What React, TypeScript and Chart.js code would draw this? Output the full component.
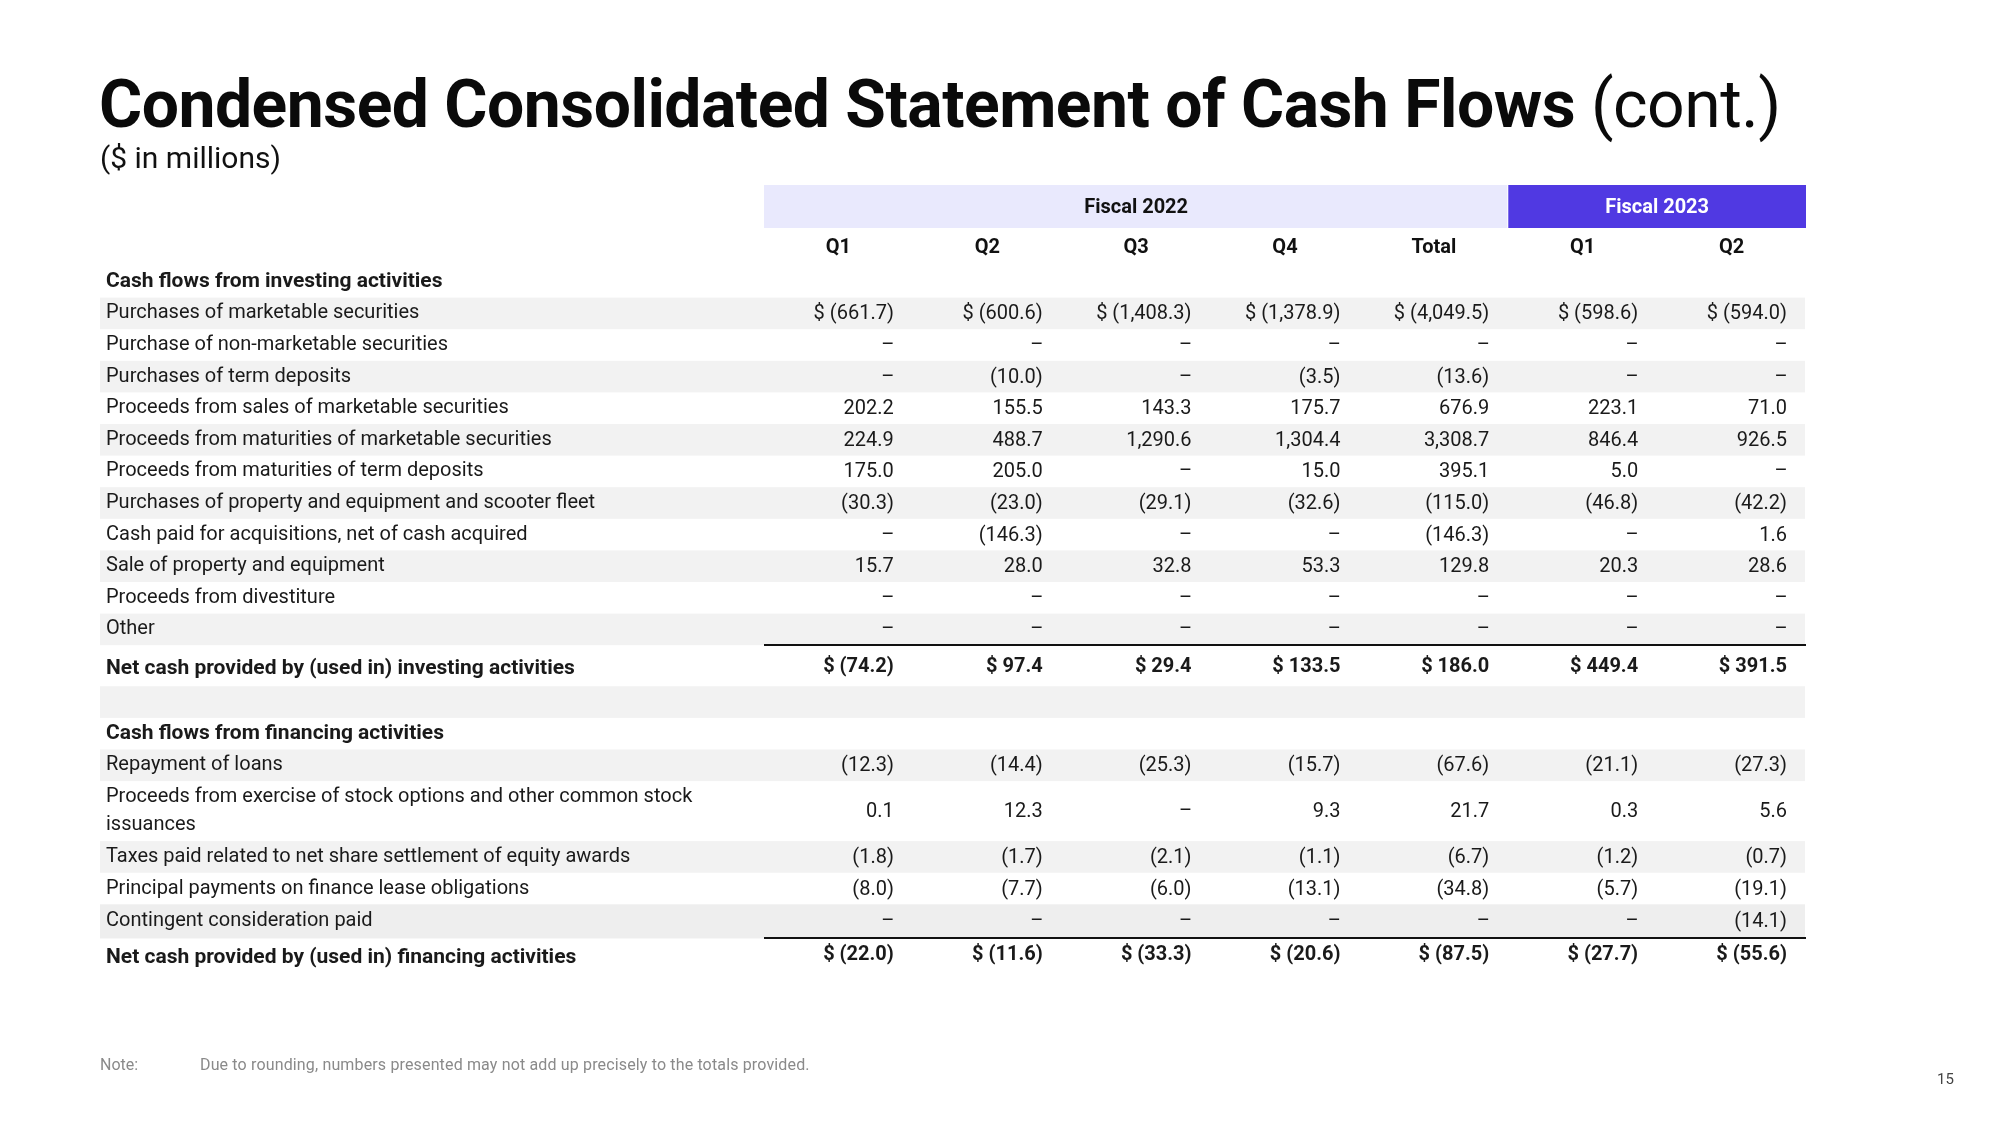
import React, { useEffect, useRef } from "react";
import { Chart, registerables } from "chart.js";

Chart.register(...registerables);

const FONT = "Roboto, 'Liberation Sans', sans-serif";

// ---- header data ----
const COLUMN_GROUPS = ["Fiscal 2022", "Fiscal 2023"];
const GROUP_SPANS = [5, 2];
const COLUMN_LABELS = ["Q1", "Q2", "Q3", "Q4", "Total", "Q1", "Q2"];

// ---- investing activities ($ in millions, null = "–") ----
const purchasesOfMarketableSecurities = [-661.7, -600.6, -1408.3, -1378.9, -4049.5, -598.6, -594.0];
const purchaseOfNonMarketableSecurities = [null, null, null, null, null, null, null];
const purchasesOfTermDeposits = [null, -10.0, null, -3.5, -13.6, null, null];
const proceedsFromSalesOfMarketable = [202.2, 155.5, 143.3, 175.7, 676.9, 223.1, 71.0];
const proceedsFromMaturitiesOfMarketable = [224.9, 488.7, 1290.6, 1304.4, 3308.7, 846.4, 926.5];
const proceedsFromMaturitiesOfTermDeposits = [175.0, 205.0, null, 15.0, 395.1, 5.0, null];
const purchasesOfPropertyAndScooters = [-30.3, -23.0, -29.1, -32.6, -115.0, -46.8, -42.2];
const cashPaidForAcquisitions = [null, -146.3, null, null, -146.3, null, 1.6];
const saleOfPropertyAndEquipment = [15.7, 28.0, 32.8, 53.3, 129.8, 20.3, 28.6];
const proceedsFromDivestiture = [null, null, null, null, null, null, null];
const otherInvesting = [null, null, null, null, null, null, null];
const netInvesting = [-74.2, 97.4, 29.4, 133.5, 186.0, 449.4, 391.5];

// ---- financing activities ----
const repaymentOfLoans = [-12.3, -14.4, -25.3, -15.7, -67.6, -21.1, -27.3];
const proceedsFromStockOptions = [0.1, 12.3, null, 9.3, 21.7, 0.3, 5.6];
const taxesPaidNetShareSettlement = [-1.8, -1.7, -2.1, -1.1, -6.7, -1.2, -0.7];
const principalPaymentsFinanceLease = [-8.0, -7.7, -6.0, -13.1, -34.8, -5.7, -19.1];
const contingentConsiderationPaid = [null, null, null, null, null, null, -14.1];
const netFinancing = [-22.0, -11.6, -33.3, -20.6, -87.5, -27.7, -55.6];

type Kind = "section" | "item" | "total" | "spacer";
type Row = { label: string | string[]; kind: Kind; values?: (number | null)[]; dollar?: boolean };

const ROWS: Row[] = [
  { label: "Cash flows from investing activities", kind: "section" },
  { label: "Purchases of marketable securities", kind: "item", values: purchasesOfMarketableSecurities, dollar: true },
  { label: "Purchase of non-marketable securities", kind: "item", values: purchaseOfNonMarketableSecurities },
  { label: "Purchases of term deposits", kind: "item", values: purchasesOfTermDeposits },
  { label: "Proceeds from sales of marketable securities", kind: "item", values: proceedsFromSalesOfMarketable },
  { label: "Proceeds from maturities of marketable securities", kind: "item", values: proceedsFromMaturitiesOfMarketable },
  { label: "Proceeds from maturities of term deposits", kind: "item", values: proceedsFromMaturitiesOfTermDeposits },
  { label: "Purchases of property and equipment and scooter fleet", kind: "item", values: purchasesOfPropertyAndScooters },
  { label: "Cash paid for acquisitions, net of cash acquired", kind: "item", values: cashPaidForAcquisitions },
  { label: "Sale of property and equipment", kind: "item", values: saleOfPropertyAndEquipment },
  { label: "Proceeds from divestiture", kind: "item", values: proceedsFromDivestiture },
  { label: "Other", kind: "item", values: otherInvesting },
  { label: "Net cash provided by (used in) investing activities", kind: "total", values: netInvesting, dollar: true },
  { label: "", kind: "spacer" },
  { label: "Cash flows from financing activities", kind: "section" },
  { label: "Repayment of loans", kind: "item", values: repaymentOfLoans },
  { label: ["Proceeds from exercise of stock options and other common stock", "issuances"], kind: "item", values: proceedsFromStockOptions },
  { label: "Taxes paid related to net share settlement of equity awards", kind: "item", values: taxesPaidNetShareSettlement },
  { label: "Principal payments on finance lease obligations", kind: "item", values: principalPaymentsFinanceLease },
  { label: "Contingent consideration paid", kind: "item", values: contingentConsiderationPaid },
  { label: "Net cash provided by (used in) financing activities", kind: "total", values: netFinancing, dollar: true },
];

// ---- layout helpers (row heights in "row units") ----
const UNIT_PX = 31.6;
const TABLE_TOP = 266;
const LABEL_LEFT = 106;
const TABLE_LEFT = 764;
const TABLE_RIGHT = 1806;
const W = 2000;
const H = 1125;

function rowUnits(r: Row, i: number): number {
  if (r.kind === "total") return i === ROWS.length - 1 ? 1.0 : 1.3;
  if (Array.isArray(r.label)) return 1.9;
  const next = ROWS[i + 1];
  if (r.kind === "item" && next && next.kind === "total" && i > 15) return 1.08;
  return 1;
}
const rowTops: number[] = [];
let acc = 0;
ROWS.forEach((r, i) => {
  rowTops.push(acc);
  acc += rowUnits(r, i);
});
const TOTAL_UNITS = acc;
const rowCenters = ROWS.map((r, i) => rowTops[i] + rowUnits(r, i) / 2);
// label anchors: bold total labels sit slightly below the row middle
const labelAnchors = ROWS.map((r, i) => rowCenters[i] + (r.kind === "total" ? 0.1 : 0));

// striped rows: alternating items within a section, plus spacer
const striped: boolean[] = [];
{
  let k = 0;
  ROWS.forEach((r) => {
    if (r.kind === "section") k = 0;
    if (r.kind === "item") {
      striped.push(k % 2 === 0);
      k++;
    } else striped.push(r.kind === "spacer");
  });
}

function fmt(v: number | null, dollar?: boolean): string {
  if (v === null) return "–";
  const abs = Math.abs(v).toLocaleString("en-US", { minimumFractionDigits: 1, maximumFractionDigits: 1 });
  const s = v < 0 ? `(${abs})` : abs;
  return dollar ? `$ ${s}` : s;
}

const tablePlugin = {
  id: "tableDecor",
  beforeDraw(chart: any) {
    const { ctx, chartArea, scales } = chart;
    const x = scales.x;
    const y = scales.y;
    ctx.save();
    // stripes
    ROWS.forEach((r, i) => {
      if (!striped[i]) return;
      const top = y.getPixelForValue(rowTops[i]);
      const bot = y.getPixelForValue(rowTops[i] + rowUnits(r, i));
      ctx.fillStyle = r.label === "Contingent consideration paid" ? "#eeeeee" : "#f2f2f2";
      ctx.fillRect(y.left - 6, top, chartArea.right - (y.left - 6) - 1, bot - top);
    });
    // group header bands
    let start = 0;
    COLUMN_GROUPS.forEach((g, gi) => {
      const x0 = x.getPixelForValue(start);
      const x1 = x.getPixelForValue(start + GROUP_SPANS[gi]);
      const bt = chartArea.top - 81;
      const bb = chartArea.top - 38;
      ctx.fillStyle = gi === 0 ? "#e9e9fd" : "#5039e2";
      ctx.fillRect(x0, bt, x1 - x0 - (gi === 0 ? 1 : 0), bb - bt);
      ctx.fillStyle = gi === 0 ? "#111111" : "#ffffff";
      ctx.font = `bold 20px ${FONT}`;
      ctx.textAlign = "center";
      ctx.textBaseline = "middle";
      ctx.fillText(g, (x0 + x1) / 2, (bt + bb) / 2 + 1);
      start += GROUP_SPANS[gi];
    });
    ctx.restore();
  },
  afterDatasetsDraw(chart: any) {
    const { ctx, scales } = chart;
    const x = scales.x;
    const y = scales.y;
    ctx.save();
    // rules above total rows
    ROWS.forEach((r, i) => {
      if (r.kind !== "total") return;
      const ty = Math.round(y.getPixelForValue(rowTops[i]));
      ctx.fillStyle = "#111111";
      ctx.fillRect(x.getPixelForValue(0), ty - 1, x.getPixelForValue(COLUMN_LABELS.length) - x.getPixelForValue(0), 2);
    });
    // values
    const colW = x.getPixelForValue(1) - x.getPixelForValue(0);
    chart.data.datasets.forEach((ds: any, di: number) => {
      const meta = chart.getDatasetMeta(di);
      meta.data.forEach((el: any, j: number) => {
        const raw = ds.data[j];
        const right = el.x + colW / 2 - 19;
        ctx.fillStyle = "#1a1a1a";
        ctx.textBaseline = "middle";
        ctx.font = `${raw.bold ? "bold " : ""}20px ${FONT}`;
        if (raw.text === "–") {
          ctx.textAlign = "center";
          ctx.fillText(raw.text, right - 6, el.y + 1);
        } else {
          ctx.textAlign = "right";
          ctx.fillText(raw.text, right, el.y + 1);
        }
      });
    });
    ctx.restore();
  },
};

export default function App() {
  const ref = useRef<HTMLCanvasElement | null>(null);

  useEffect(() => {
    if (!ref.current) return;
    const datasets = COLUMN_LABELS.map((lab, c) => ({
      label: lab,
      data: ROWS.flatMap((r, i) =>
        r.values
          ? [{ x: c + 0.5, y: rowCenters[i], text: fmt(r.values[c], r.dollar), bold: r.kind === "total" }]
          : []
      ),
      pointRadius: 0,
      pointHoverRadius: 0,
      showLine: false,
    }));

    const chart = new Chart(ref.current, {
      type: "scatter",
      data: { datasets },
      options: {
        responsive: false,
        maintainAspectRatio: false,
        animation: false,
        events: [],
        layout: {
          padding: {
            left: LABEL_LEFT,
            top: 0,
            right: W - TABLE_RIGHT,
            bottom: H - (TABLE_TOP + TOTAL_UNITS * UNIT_PX),
          },
        },
        plugins: {
          legend: { display: false },
          tooltip: { enabled: false },
          title: { display: false },
        },
        scales: {
          x: {
            type: "linear",
            position: "top",
            min: 0,
            max: COLUMN_LABELS.length,
            grid: { display: false, drawTicks: false },
            border: { display: false },
            afterBuildTicks: (s: any) => {
              s.ticks = COLUMN_LABELS.map((_, i) => ({ value: i + 0.5 }));
            },
            afterFit: (s: any) => {
              s.height = TABLE_TOP;
            },
            ticks: {
              autoSkip: false,
              maxRotation: 0,
              padding: 6,
              color: "#111111",
              font: { family: FONT, size: 20, weight: "bold" },
              callback: (_v: any, i: number) => COLUMN_LABELS[i],
            },
          },
          y: {
            type: "linear",
            position: "left",
            reverse: true,
            min: 0,
            max: TOTAL_UNITS,
            grid: { display: false, drawTicks: false },
            border: { display: false },
            afterBuildTicks: (s: any) => {
              s.ticks = labelAnchors.map((v) => ({ value: v }));
            },
            afterFit: (s: any) => {
              s.width = TABLE_LEFT - LABEL_LEFT;
            },
            ticks: {
              autoSkip: false,
              crossAlign: "far",
              padding: 0,
              color: "#1a1a1a",
              font: (ctx: any) => {
                const r = ROWS[ctx.index];
                const bold = r && (r.kind === "section" || r.kind === "total");
                return { family: FONT, size: bold ? 21 : 20, weight: bold ? "bold" : "normal", lineHeight: 1.4 };
              },
              callback: (_v: any, i: number) => ROWS[i].label,
            },
          },
        },
      },
      plugins: [tablePlugin],
    } as any);
    return () => chart.destroy();
  }, []);

  return (
    <div style={{ position: "absolute", left: 0, top: 0, width: W, height: H, background: "#ffffff", overflow: "hidden" }}>
      <canvas ref={ref} width={W} height={H} style={{ position: "absolute", left: 0, top: 0, display: "block" }} />
      <div
        style={{
          position: "absolute",
          left: 99,
          top: 69,
          fontFamily: FONT,
          fontSize: 66,
          lineHeight: "72px",
          letterSpacing: "-0.5px",
          color: "#0a0a0a",
          whiteSpace: "nowrap",
        }}
      >
        <span style={{ fontWeight: 700 }}>Condensed Consolidated Statement of Cash Flows</span>
        <span style={{ fontWeight: 400 }}> (cont.)</span>
      </div>
      <div
        style={{
          position: "absolute",
          left: 100,
          top: 139,
          fontFamily: FONT,
          fontSize: 30,
          lineHeight: "38px",
          color: "#111111",
          whiteSpace: "nowrap",
        }}
      >
        ($ in millions)
      </div>
      <div
        style={{
          position: "absolute",
          left: 100,
          top: 1055,
          fontFamily: FONT,
          fontSize: 16,
          lineHeight: "19px",
          color: "#8a8a8a",
          whiteSpace: "nowrap",
        }}
      >
        Note:
      </div>
      <div
        style={{
          position: "absolute",
          left: 200,
          top: 1055,
          fontFamily: FONT,
          fontSize: 16,
          lineHeight: "19px",
          letterSpacing: "0.15px",
          color: "#8a8a8a",
          whiteSpace: "nowrap",
        }}
      >
        Due to rounding, numbers presented may not add up precisely to the totals provided.
      </div>
      <div
        style={{
          position: "absolute",
          left: 1937,
          top: 1070,
          fontFamily: FONT,
          fontSize: 15,
          lineHeight: "18px",
          color: "#444444",
          whiteSpace: "nowrap",
        }}
      >
        15
      </div>
    </div>
  );
}
